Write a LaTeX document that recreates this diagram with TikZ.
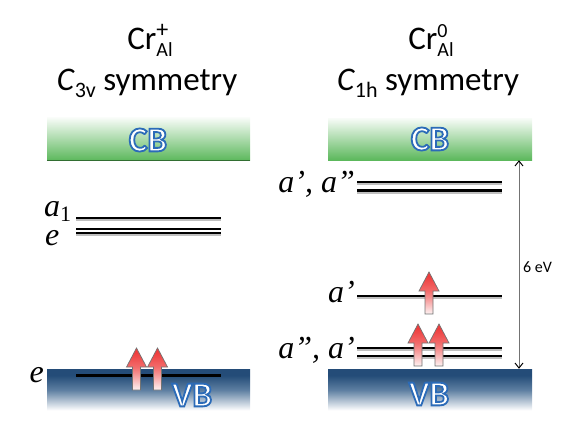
\documentclass[tikz,border=0pt]{standalone}
\usepackage{fontspec}
\setmainfont{Carlito}
\newfontfamily\tms{Liberation Serif}
\usetikzlibrary{arrows.meta,calc}
\definecolor{cbgreen}{RGB}{92,184,92}
\definecolor{cbline}{RGB}{50,110,50}
\definecolor{vbtop}{RGB}{36,76,120}
\definecolor{vbmid}{RGB}{95,128,162}
\definecolor{spinred}{RGB}{238,60,60}
\pgfdeclareverticalshading{vbshade}{100bp}{color(0bp)=(white); color(25bp)=(white); color(30bp)=(white); color(52bp)=(vbmid); color(68bp)=(vbtop); color(100bp)=(vbtop)}
\pgfdeclareverticalshading{spinshade}{100bp}{color(0bp)=(white); color(25bp)=(spinred!6!white); color(52bp)=(spinred!75!white); color(70bp)=(spinred); color(100bp)=(spinred)}
\newcommand\smallsz{\fontsize{20}{20}\selectfont}
\newcommand\titlesz{\fontsize{33}{38}\selectfont}
\newcommand\lvlsz{\fontsize{32}{36}\selectfont}
% white text with blue outline (fill + stroke text render mode)
\newcommand\outlined[1]{\color{white}\special{pdf:literal direct 2 Tr 1.8 w 0.17 0.42 0.72 RG}#1\special{pdf:literal direct 0 Tr}}
\tikzset{
  cbbox/.style={rectangle, inner sep=0pt, draw=none, top color=cbgreen!4!white, bottom color=cbgreen},
  vbbox/.style={rectangle, inner sep=0pt, draw=none, shading=vbshade},
  bandtxt/.style={inner sep=0pt, font=\bfseries\fontsize{35}{37}\selectfont},
  title/.style={anchor=base, inner sep=0pt, font=\titlesz},
  lvllabel/.style={inner sep=0pt, font=\tms\itshape\lvlsz},
  lvl/.style={line width=2.8pt, black},
  lvlshadow/.style={line width=3.5pt, black!25},
  gap/.style={draw=black!55, line width=1pt, {Straight Barb[length=5pt,width=8pt,black]}-{Straight Barb[length=5pt,width=8pt,black]}},
  spinup/.pic={\path[draw=black!55, line width=0.7pt, shading=spinshade]
     (0,0) -- (10,19) -- (4,19) -- (4,42) -- (-4,42) -- (-4,19) -- (-10,19) -- cycle;}
}
\begin{document}
\begin{tikzpicture}[x=1pt,y=-1pt]
\useasboundingbox (0,0) rectangle (581,436);
% titles
\node[title] (t1a) at (150,50) {Cr\rlap{\raisebox{12pt}{\fontsize{24}{24}\selectfont +}}\raisebox{-7pt}{\smallsz Al}};
\node[title] (t1b) at (147,91) {\textit{C}\raisebox{-6pt}{\fontsize{22}{22}\selectfont 3v} symmetry};
\node[title] (t2a) at (431,50) {Cr\rlap{\raisebox{13pt}{\smallsz 0}}\raisebox{-7pt}{\smallsz Al}};
\node[title] (t2b) at (428,91) {\textit{C}\raisebox{-6pt}{\fontsize{22}{22}\selectfont 1h} symmetry};
% bands
\node[cbbox, minimum width=203pt, minimum height=43pt] (lcb) at (148.5,139) {};
\draw[cbline, line width=0.8pt] (lcb.south west) -- (lcb.south east);
\node[cbbox, minimum width=204pt, minimum height=42pt] (rcb) at (430,139) {};
\node[vbbox, minimum width=203pt, minimum height=46pt] (lvb) at (148.5,392) {};
\node[vbbox, minimum width=204pt, minimum height=46pt] (rvb) at (430,392) {};
\node[bandtxt] (lcbt) at (148,140) {\outlined{CB}};
\node[bandtxt] (rcbt) at (430,139) {\outlined{CB}};
% left levels
\draw[lvlshadow] (76,219.5) -- (221,219.5);
\draw[lvl] (76,218) -- (221,218);
\draw[lvlshadow] (76,234.5) -- (221,234.5);
\draw[lvl, line width=2.4pt] (76,229.2) -- (221,229.2);
\draw[lvl, line width=2.4pt] (76,233) -- (221,233);
\draw[lvl, line width=3.6pt] (76,375.5) -- (221,375.5);
\node[lvllabel, anchor=base west] (la1) at (44,216) {a\raisebox{-5pt}{\upshape\fontsize{22}{22}\selectfont 1}};
\node[lvllabel, anchor=base west] (le1) at (45,245) {e};
\node[lvllabel, anchor=base east] (le2) at (44,382) {e};
\pic at (136.5,348) {spinup};
\pic at (157.5,348) {spinup};
\node[bandtxt] (lvbt) at (192,395) {\outlined{VB}};
% right levels
\draw[lvlshadow] (357,183.5) -- (502,183.5);
\draw[lvl] (357,182) -- (502,182);
\draw[lvlshadow] (357,192) -- (502,192);
\draw[lvl] (357,190.5) -- (502,190.5);
\draw[lvlshadow] (357,297.5) -- (502,297.5);
\draw[lvl] (357,296) -- (502,296);
\draw[lvlshadow] (357,349.5) -- (502,349.5);
\draw[lvl] (357,348) -- (502,348);
\draw[lvlshadow] (357,357.5) -- (502,357.5);
\draw[lvl] (357,356) -- (502,356);
\node[lvllabel, anchor=base east] (ra1) at (355,192) {a’, a”};
\node[lvllabel, anchor=base east] (ra2) at (355,302) {a’};
\node[lvllabel, anchor=base east] (ra3) at (355,358) {a”, a’};
\pic at (429,272) {spinup};
\pic at (418,324) {spinup};
\pic at (439,324) {spinup};
\node[bandtxt] (rvbt) at (429,394) {\outlined{VB}};
% gap arrow
\draw[gap] (rcb.south -| 519,0) -- (rvb.north -| 519,0);
\node[anchor=base west, inner sep=0pt, font=\fontsize{16}{18}\selectfont] (gaplbl) at (523,272) {6 eV};
\end{tikzpicture}
\end{document}
